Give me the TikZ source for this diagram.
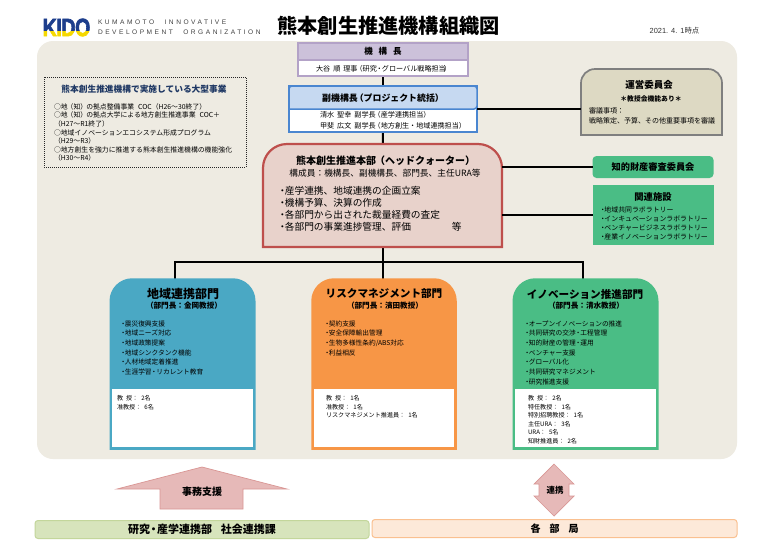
\documentclass[tikz,border=0pt]{standalone}
\usepackage{fontspec}
\setmainfont{Noto Sans CJK JP}
\newfontfamily\spaced[LetterSpace=38]{Liberation Sans}
\newfontfamily\logofont[BoldFeatures={FakeBold=3,LetterSpace=-2}]{Liberation Sans}
\newfontfamily\plain{Liberation Sans}
\definecolor{bgc}{HTML}{EEEBE2}
\definecolor{purh}{HTML}{CCC1DA}
\definecolor{purb}{HTML}{B3A2C7}
\definecolor{bluh}{HTML}{C6D9F1}
\definecolor{blub}{HTML}{4A86D0}
\definecolor{mainf}{HTML}{E8D2CB}
\definecolor{mainb}{HTML}{BE4F4C}
\definecolor{teal}{HTML}{4AA8C4}
\definecolor{orng}{HTML}{F79646}
\definecolor{gren}{HTML}{4ABD85}
\definecolor{unef}{HTML}{DDD9C3}
\definecolor{uneb}{HTML}{7F7F7F}
\definecolor{botg}{HTML}{D7E4BC}
\definecolor{botgb}{HTML}{C3D69B}
\definecolor{botp}{HTML}{FDE9D9}
\definecolor{botpb}{HTML}{FAC090}
\definecolor{arrf}{HTML}{E6B9B8}
\definecolor{arrb}{HTML}{D99694}
\definecolor{navy}{HTML}{1F3864}
\definecolor{logob}{HTML}{1D3E8C}
\definecolor{logoy}{HTML}{F5D800}
\tikzset{
  x=1pt,y=-1pt,
  anch/.style={rectangle,inner sep=0pt,outer sep=0pt,minimum width=#1},
  wire/.style={line width=2pt,black},
  txt/.style={inner sep=0pt,outer sep=0pt,text=black},
  listing/.style={txt,anchor=north west,align=left,font=\fontsize{6.7}{9.7}\selectfont},
  staff/.style={txt,anchor=north west,align=left,font=\fontsize{6.1}{8.5}\selectfont},
  depthead/.style={txt,font=\fontsize{10.6}{13}\selectfont\bfseries},
  deptsub/.style={txt,font=\fontsize{7.6}{9}\selectfont\bfseries},
  bottombar/.style={rectangle,rounded corners=3pt,line width=1pt,minimum height=18pt,inner sep=0pt},
}
% a box of given name with a rounded top
\newcommand{\toprnd}[4]{%
  \path[fill=#2,draw=#3,line width=#4]
    (#1.south west) [rounded corners=\myr] -- (#1.north west) -- (#1.north east)
    [sharp corners] -- (#1.south east) -- cycle;}
\newcommand{\myr}{10pt}
\newcommand{\dt}{\makebox[0.5em][c]{・}}
\begin{document}
\begin{tikzpicture}
\useasboundingbox (0,0) rectangle (768,542);
\fill[white] (0,0) rectangle (768,542);
\fill[bgc,rounded corners=16pt] (37,41) rectangle (737,459);

% logo
\node[txt,anchor=center,xscale=.78,font=\logofont\fontsize{25}{25}\selectfont\bfseries,text=black] (logo) at (66.5,27.5) {KIDO};
\fill[blend mode=screen,color=logob] (42,15) rectangle (92,31);
\fill[blend mode=screen,color=logoy] (42,31) rectangle (92,40);
\node[txt,anchor=west,font=\spaced\fontsize{6.6}{10.4}\selectfont,align=left,text=black!75] (logotext) at (98,27) {KUMAMOTO\hspace{6pt} INNOVATIVE\\DEVELOPMENT\hspace{6pt} ORGANIZATION};

% title
\node[txt,font=\fontsize{20.2}{22}\selectfont\bfseries] (title) at (388.5,25.5) {熊本創生推進機構組織図};
\node[txt,font=\plain\fontsize{7.4}{8}\selectfont,text=black!80] (date) at (674.5,30.5) {2021.\hspace{3pt}4.\hspace{3pt}1{\rmfamily\fontsize{7.4}{8}\selectfont 時点}};

% anchors of the boxes
\node[anch=170pt,minimum height=33pt] (kicho) at (383,59.5) {};
\node[anch=188pt,minimum height=46pt] (fuku) at (383,109) {};
\node[anch=239pt,minimum height=103pt] (main) at (382.5,195.5) {};
\node[anch=144.5pt,minimum height=170pt] (chiiki) at (182.5,364) {};
\node[anch=144pt,minimum height=170pt] (risk) at (384,364) {};
\node[anch=144.5pt,minimum height=170pt] (inno) at (585.5,364) {};
\coordinate (bus) at (382.5,262);
\coordinate (chtop) at (175,279);
\coordinate (intop) at (583,279);

% connectors
\draw[wire] (kicho) -- (fuku);
\draw[wire] (fuku) -- (main);
\draw[wire] (main) -- (bus);
\draw[wire] (bus) -| (chtop);
\draw[wire] (bus) -| (intop);
\draw[wire] (bus) -- (bus |- risk.north);

% 機構長
\path[draw=purb,fill=white,line width=1.5pt] (kicho.south west) rectangle (kicho.north east);
\node[anch=170pt,minimum height=17pt,fill=purh,draw=purb,line width=1.5pt,anchor=north,font=\fontsize{8.5}{10}\selectfont\bfseries] (kichoh) at (kicho.north) {機\hspace{6pt}構\hspace{6pt}長};
\node[txt,font=\fontsize{7.1}{8}\selectfont] (kichon) at (383.5,68.7) {大谷\hspace{3pt}順\hspace{3pt}理事\hspace{-2pt}（研究\hspace{-1pt}・\hspace{-1pt}グローバル戦略担当\hspace{-2pt}）};

% 副機構長
\path[draw=blub,fill=white,line width=1.5pt] (fuku.south west) rectangle (fuku.north east);
\draw[blub,fill=bluh,line width=1.5pt,rounded corners=3pt] (fuku.west) -- (fuku.north west) -- (fuku.north east) -- (fuku.east) [sharp corners] -- cycle;
\node[txt,font=\fontsize{8.9}{12}\selectfont\bfseries] (fukuh) at (383,98.5) {副機構長\hspace{-3pt}（プロジェクト統括）\hspace{-3pt}};
\node[txt,anchor=north west,align=left,font=\fontsize{7.1}{10.8}\selectfont] (fukun) at (320,111.5) {清水\hspace{3pt}聖幸\hspace{3pt}副学長\hspace{-2pt}（産学連携担当）\\甲斐\hspace{3pt}広文\hspace{3pt}副学長\hspace{-2pt}（地方創生・地域連携担当）};

% 本部
\renewcommand{\myr}{24pt}\toprnd{main}{mainf}{mainb}{2.2pt}
\node[txt,font=\fontsize{10}{12}\selectfont\bfseries] (mainh) at (385.5,161) {熊本創生推進本部\hspace{-1pt}（ヘッドクォーター）};
\node[txt,font=\fontsize{8.7}{10}\selectfont] (mains) at (385,173) {構成員：機構長、副機構長、部門長、主任URA等};
\node[txt,anchor=north west,align=left,font=\fontsize{9.7}{12}\selectfont] (mainl) at (280,186.5) {\dt 産学連携、地域連携の企画立案\\\dt 機構予算、決算の作成\\\dt 各部門から出された裁量経費の査定\\\dt 各部門の事業進捗管理、評価\hspace{41pt}等};

% right column
\node[anch=141pt,minimum height=66pt] (unei) at (651.5,102) {};
\renewcommand{\myr}{14pt}\toprnd{unei}{unef}{uneb}{1.7pt}
\node[txt,font=\fontsize{9.5}{11}\selectfont\bfseries] (uneih) at (649,85) {運営委員会};
\node[txt,font=\fontsize{6.8}{8}\selectfont\bfseries] (uneis) at (651,99) {＊教授会機能あり＊};
\node[txt,anchor=north west,align=left,font=\fontsize{7}{10}\selectfont] (uneil) at (589,108) {審議事項：\\戦略策定、予算、その他重要事項を審議};
\node[anch=121pt,minimum height=22pt,fill=gren,rounded corners=4pt,font=\fontsize{9.2}{10}\selectfont\bfseries] (chizai) at (653,167) {知的財産審査委員会};
\node[anch=121pt,minimum height=60pt,fill=gren] (kanren) at (653,215) {};
\node[txt,font=\fontsize{9.3}{10}\selectfont\bfseries] (kanrenh) at (653,197) {関連施設};
\node[listing,font=\fontsize{6.9}{9}\selectfont] (kanrenl) at (601,207) {\dt 地域共同ラボラトリー\\\dt インキュベーションラボラトリー\\\dt ベンチャービジネスラボラトリー\\\dt 産業イノベーションラボラトリー};
\draw[wire] (fuku.east) -- (fuku.east -| unei.west);
\draw[wire] (chizai.west -| main.east) -- (chizai.west);
\draw[wire] (kanren.west -| main.east) -- (kanren.west);

% 大型事業
\node[anch=202pt,minimum height=90pt,draw=black!85,densely dotted,line width=1pt] (proj) at (145,122) {};
\node[txt,font=\fontsize{8.7}{10}\selectfont\bfseries,text=navy] (projh) at (144,89) {熊本創生推進機構で実施している大型事業};
\node[txt,anchor=north west,align=left,font=\fontsize{6.85}{8.6}\selectfont] (projl) at (54,103.5) {○地\hspace{-1pt}（知）\hspace{-1pt}の拠点整備事業\hspace{4pt}COC（H26～30終了）\\○地\hspace{-1pt}（知）\hspace{-1pt}の拠点大学による地方創生推進事業\hspace{4pt}COC＋\\（H27～R1終了）\\○地域イノベーションエコシステム形成プログラム\\（H29～R3）\\○地方創生を強力に推進する熊本創生推進機構の機能強化\\（H30～R4）};

% departments
\renewcommand{\myr}{22pt}
\toprnd{chiiki}{teal}{teal}{1.5pt}
\toprnd{risk}{orng}{orng}{1.5pt}
\toprnd{inno}{gren}{gren}{1.5pt}
\fill[white] (112,389) rectangle (253,446.5);
\fill[white] (314,389) rectangle (454,446.5);
\fill[white] (515,389) rectangle (656,446.5);

\node[depthead,font=\fontsize{12}{13}\selectfont\bfseries] (ch) at (183,294) {地域連携部門};
\node[deptsub] (chs) at (184,306) {（部門長：金岡教授）};
\node[listing] (chl) at (121.5,320.5) {\dt 震災復興支援\\\dt 地域ニーズ対応\\\dt 地域政策提案\\\dt 地域シンクタンク機能\\\dt 人材地域定着推進\\\dt 生涯学習\hspace{-1pt}・\hspace{-1pt}リカレント教育};
\node[staff] (chst) at (117,395.5) {教\hspace{3pt}授：\hspace{3pt}2名\\准教授：\hspace{3pt}6名};

\node[depthead] (rh) at (384,294) {リスクマネジメント部門};
\node[deptsub] (rs) at (385,306) {（部門長：濱田教授）};
\node[listing] (rl) at (325.5,320.5) {\dt 契約支援\\\dt 安全保障輸出管理\\\dt 生物多様性条約/ABS対応\\\dt 利益相反};
\node[staff] (rst) at (326,395.5) {教\hspace{3pt}授：\hspace{3pt}1名\\准教授：\hspace{3pt}1名\\リスクマネジメント推進員：\hspace{3pt}1名};

\node[depthead] (ih) at (585,294) {イノベーション推進部門};
\node[deptsub] (is) at (586,306) {（部門長：清水教授）};
\node[listing] (il) at (525.5,320.5) {\dt オープンイノベーションの推進\\\dt 共同研究の交渉\hspace{-1pt}・\hspace{-1pt}工程管理\\\dt 知的財産の管理\hspace{-1pt}・\hspace{-1pt}運用\\\dt ベンチャー支援\\\dt グローバル化\\\dt 共同研究マネジメント\\\dt 研究推進支援};
\node[staff] (ist) at (528,395.5) {教\hspace{3pt}授：\hspace{3pt}2名\\特任教授：\hspace{3pt}1名\\特別招聘教授：\hspace{3pt}1名\\主任URA：\hspace{3pt}3名\\URA：\hspace{3pt}5名\\知財推進員：\hspace{3pt}2名};

% bottom
\node[bottombar,fill=botg,draw=botgb,minimum width=334pt,font=\fontsize{11}{12}\selectfont\bfseries] (kacho) at (202,529.5) {研究\hspace{-2pt}・\hspace{-2pt}産学連携部\hspace{9pt}社会連携課};
\node[bottombar,fill=botp,draw=botpb,minimum width=365pt,font=\fontsize{10}{12}\selectfont\bfseries] (kaku) at (554.5,528.5) {各\hspace{9pt}部\hspace{9pt}局};
\draw[draw=arrb,fill=arrf,line width=.7pt] (202,467) -- (287,489) -- (243,489) -- (243,509) -- (160,509) -- (160,489) -- (117,489) -- cycle;
\draw[draw=arrb,fill=arrf,line width=.7pt] (554,464) -- (574,484) -- (569,484) -- (569,496) -- (574,496) -- (554,516) -- (534,496) -- (539,496) -- (539,484) -- (534,484) -- cycle;
\node[txt,font=\fontsize{10}{12}\selectfont\bfseries] (jimu) at (202,492) {事務支援};
\node[txt,font=\fontsize{8.5}{10}\selectfont\bfseries] (renkei) at (555,490) {連携};
\end{tikzpicture}
\end{document}
